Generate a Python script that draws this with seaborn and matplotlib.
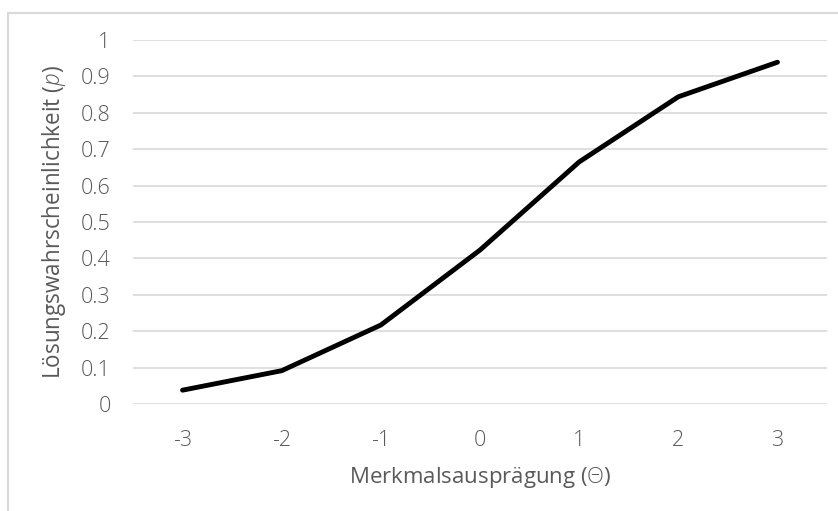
import matplotlib
matplotlib.use('Agg')
import matplotlib.pyplot as plt
from matplotlib.lines import Line2D
import seaborn as sns
import pandas as pd

# item characteristic curve
theta = [-3, -2, -1, 0, 1, 2, 3]
p_solve = [0.038, 0.0915, 0.217, 0.423, 0.665, 0.844, 0.939]
y_ticks = [0, 0.1, 0.2, 0.3, 0.4, 0.5, 0.6, 0.7, 0.8, 0.9, 1]
y_labels = ['0', '0.1', '0.2', '0.3', '0.4', '0.5', '0.6', '0.7', '0.8', '0.9', '1']

df = pd.DataFrame({'theta': theta, 'p': p_solve})

sns.set_style('white')
plt.rcParams['font.family'] = ['Open Sans', 'DejaVu Sans']
plt.rcParams['font.weight'] = 'light'
plt.rcParams['mathtext.fontset'] = 'custom'
plt.rcParams['mathtext.it'] = 'Open Sans:italic'
plt.rcParams['mathtext.rm'] = 'Open Sans'

GREY = '#595959'
GRID = '#d9d9d9'

fig = plt.figure(figsize=(8.38, 5.11), dpi=100)
ax = fig.add_axes([0.1587, 0.2094, 0.8282, 0.7123])

sns.lineplot(data=df, x='theta', y='p', color='black', linewidth=3.5, ax=ax,
             solid_capstyle='round', solid_joinstyle='round')

ax.set_xlim(-3.5, 3.5)
ax.set_ylim(0, 1)
ax.set_yticks(y_ticks)
ax.set_yticklabels(y_labels)
ax.set_xticks(theta)
ax.set_xticklabels([str(t) for t in theta])
ax.grid(axis='y', color=GRID, linewidth=1.2)
ax.set_axisbelow(True)
for s in ax.spines.values():
    s.set_visible(False)
ax.tick_params(length=0, labelsize=15.5, colors=GREY)
ax.tick_params(axis='x', pad=19)
ax.tick_params(axis='y', pad=16)

xl = ax.set_xlabel('Merkmalsausprägung ($\\mathit{Θ}$)', fontsize=15, color=GREY, va='center')
yl = ax.set_ylabel('Lösungswahrscheinlichkeit ($p$)', fontsize=15, color=GREY, va='center')
ax.xaxis.set_label_coords(0.5, -0.203)
ax.yaxis.set_label_coords(-0.114, 0.5)

# match label widths to the reference (263 px and 315 px)
fig.canvas.draw()
r = fig.canvas.get_renderer()
xl.set_fontsize(15 * 263 / xl.get_window_extent(r).width)
yl.set_fontsize(15 * 315 / yl.get_window_extent(r).height)

# chart frame (only top and left edges visible in the reference)
fig.add_artist(Line2D([0.009, 0.009], [0.0, 0.975], color=GRID, linewidth=1.5,
                      transform=fig.transFigure))
fig.add_artist(Line2D([0.009, 1.0], [0.975, 0.975], color=GRID, linewidth=1.5,
                      transform=fig.transFigure))

fig.savefig('out.png', dpi=100)
